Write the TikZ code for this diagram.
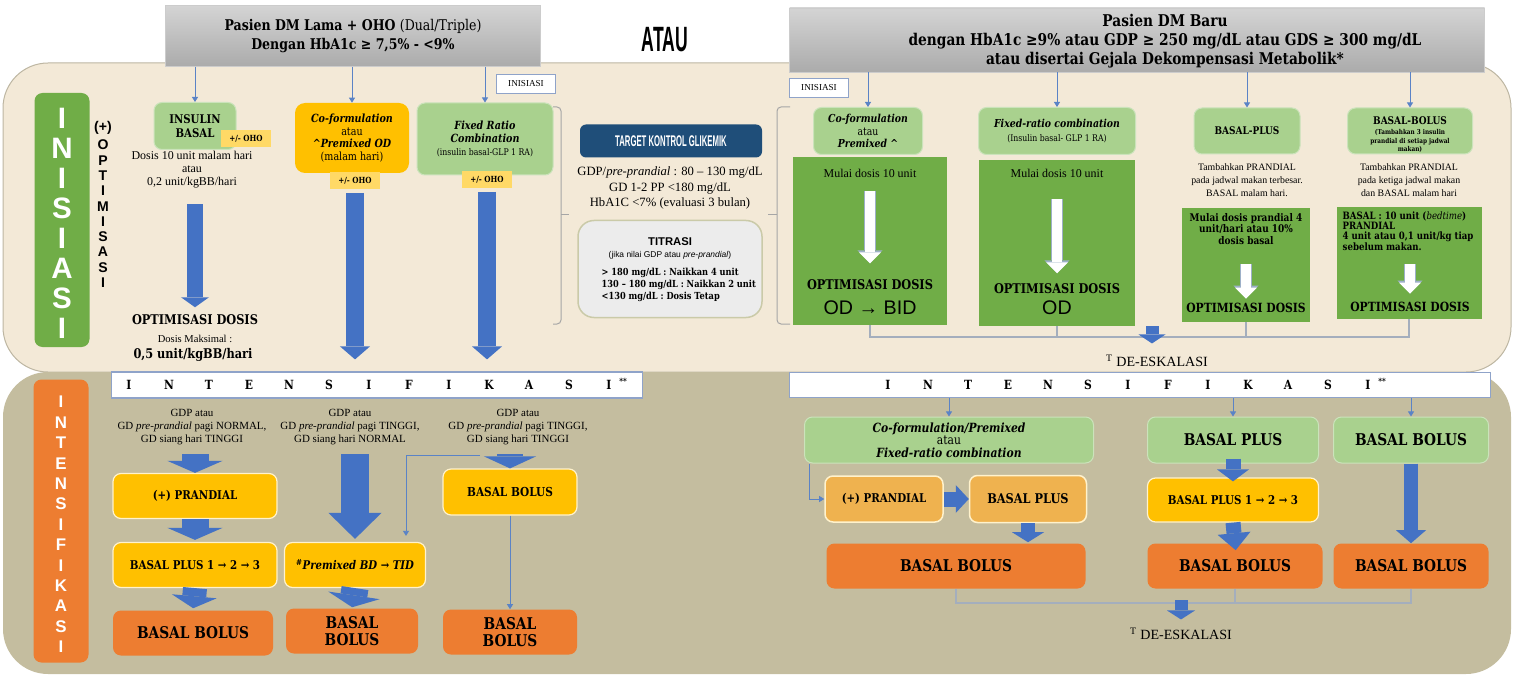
\documentclass[tikz,border=0pt]{standalone}
\usepackage{fontspec}
\setmainfont{Liberation Serif}
\setsansfont{Liberation Sans}
\newfontfamily\bk[FakeStretch=0.85]{DejaVu Serif}
\newfontfamily\cond[FakeStretch=0.5]{Liberation Sans}
\usetikzlibrary{arrows.meta}

\definecolor{cream}{HTML}{F3E9D7}
\definecolor{khaki}{HTML}{C4BD9F}
\definecolor{panelline}{HTML}{BDB6A2}
\definecolor{grayt}{HTML}{D4D4D4}
\definecolor{grayb}{HTML}{ABABAB}
\definecolor{navy}{HTML}{1F4E79}
\definecolor{dgreen}{HTML}{70AD47}
\definecolor{lgreen}{HTML}{A9D18E}
\definecolor{gold}{HTML}{FFC000}
\definecolor{paley}{HTML}{FFD966}
\definecolor{orng}{HTML}{ED7D31}
\definecolor{lorng}{HTML}{EFB24F}
\definecolor{arrblue}{HTML}{4472C4}
\definecolor{thinblue}{HTML}{5A83C6}
\definecolor{connline}{HTML}{A4AEBD}
\definecolor{lborder}{HTML}{FFF2CC}
\definecolor{titline}{HTML}{CACAA8}
\definecolor{banline}{HTML}{8FA3C9}
\definecolor{warrline}{HTML}{9DB0C8}

\newdimen\pxl \pxl=0.025cm
\newcommand{\fsz}[2]{\fontsize{#1}{#2}\selectfont}

\begin{document}
\begin{tikzpicture}[x=0.025cm, y=-0.025cm,
  every node/.style={align=center, inner sep=1pt},
  wh/.style 2 args={minimum width=#1\pxl, minimum height=#2\pxl},
  graybox/.style={top color=grayt, bottom color=grayb, draw=gray!40, line width=0.5\pxl},
  gbox/.style={fill=lgreen, draw=lgreen!60!white, line width=1\pxl, rounded corners=8\pxl},
  dgbox/.style={fill=dgreen},
  ybox/.style={fill=gold, draw=lborder, line width=1.2\pxl, rounded corners=8\pxl},
  pbox/.style={fill=lorng, draw=lborder, line width=1.5\pxl, rounded corners=8\pxl},
  obox/.style={fill=orng, rounded corners=8\pxl},
  ohobox/.style={fill=paley, wh={50}{17}, font=\bk\bfseries\fsz{6}{7}},
  inibox/.style={fill=white, draw=banline, line width=1.2\pxl, wh={59}{19}, font=\fsz{6.5}{7}},
  banner/.style={fill=white, draw=banline, line width=1.2\pxl},
  tarr/.style={draw=thinblue, line width=0.9\pxl, -{Triangle[width=4.3pt,length=3.6pt]}},
  conn/.style={draw=connline, line width=1.2\pxl},
  brk/.style={draw=gray!70, line width=1\pxl, rounded corners=4\pxl},
  barr/.style n args={3}{draw=arrblue, line width=#1\pxl,
    /utils/exec={\pgfmathsetmacro\arw{#2*0.71132}\pgfmathsetmacro\arl{#3*0.71132}},
    -{Triangle[width=\arw pt,length=\arl pt,line width=0pt 0 0]}},
  warr/.style={draw=white, line width=10\pxl, -{Triangle[width=15.6pt,length=7.8pt,line width=0pt 0 0]},
    preaction={draw=warrline, line width=12\pxl, -{Triangle[width=17.8pt,length=9.2pt,line width=0pt 0 0]}}}]
\useasboundingbox (0,0) rectangle (1514,676);

\filldraw[fill=cream, draw=panelline, line width=1\pxl, rounded corners=45\pxl] (3,63) rectangle (1511,372);
\fill[khaki, rounded corners=45\pxl] (3,372) rectangle (1511,674);

\node[graybox, wh={375}{61}, font=\bk\bfseries\fsz{10.5}{13}] (lama) at (353,36) {Pasien DM Lama + OHO {\mdseries (Dual/Triple)}\\Dengan HbA1c ≥ 7,5\% - <9\%};
\node[font=\cond\bfseries\fsz{25}{27}] (atau) at (665,40) {ATAU};
\node[graybox, wh={695}{64}] (baru) at (1137,40) {};
\node[font=\bk\bfseries\fsz{11.5}{13.5}] (barutxt) at (1165,41) {Pasien DM Baru\\dengan HbA1c ≥9\% atau GDP ≥ 250 mg/dL atau GDS ≥ 300 mg/dL\\atau disertai Gejala Dekompensasi Metabolik*};
\node[inibox] (ini1) at (526,84) {INISIASI};
\node[inibox] (ini2) at (819,88) {INISIASI};

\node[fill=dgreen, rounded corners=8\pxl, wh={55}{254}] (ibar) at (62,220) {};
\foreach \c [count=\i from 0] in {I,N,I,S,I,A,S,I}
  \node[font=\sffamily\bfseries\fsz{21}{21}, text=white] (ib\i) at (62,{118+30*\i}) {\c};
\node[font=\sffamily\bfseries\fsz{10}{10}] (plus) at (103,128) {(+)};
\foreach \c [count=\i from 0] in {O,P,T,I,M,I,S,A,S,I}
  \node[font=\sffamily\bfseries\fsz{10}{10}] (op\i) at (103,{145+15.3*\i}) {\c};

\node[gbox, wh={82}{47}, font=\bk\bfseries\fsz{8.5}{10}] (ins) at (195,126) {INSULIN\\BASAL};
\node[ohobox] (oho1) at (246,139) {+/- OHO};
\node[font=\fsz{8.5}{9.3}] (dos1) at (192,170) {Dosis 10 unit malam hari\\atau\\0,2 unit/kgBB/hari};
\node[font=\bk\bfseries\fsz{9.5}{11}] (opt1) at (195,320) {OPTIMISASI DOSIS};
\node[font=\fsz{7.5}{9}] (max1) at (195,339) {Dosis Maksimal :};
\node[font=\bk\bfseries\fsz{9.5}{11}] (max2) at (193,355) {0,5 unit/kgBB/hari};

\node[fill=gold, rounded corners=10\pxl, wh={114}{70}, font=\bk\fsz{8}{9}] (cof1) at (352,138) {\textbf{\textit{Co-formulation}}\\atau\\\textbf{\textit{\textasciicircum Premixed OD}}\\(malam hari)};
\node[ohobox] (oho2) at (355,181) {+/- OHO};
\node[gbox, wh={136}{72}, font=\bk\fsz{8}{9.4}] (frc) at (485,139) {\textbf{\textit{Fixed Ratio}}\\\textbf{\textit{Combination}}\\{\fsz{6.5}{8}(insulin basal-GLP 1 RA)}};
\node[ohobox] (oho3) at (487,180) {+/- OHO};

\node[fill=navy, rounded corners=6\pxl, wh={182}{33}, text=white, font=\cond\bfseries\fsz{11}{12}] (tkg) at (671,141) {TARGET KONTROL GLIKEMIK};
\node[font=\fsz{9}{10.7}] (tgt) at (670,188) {GDP/\textit{pre-prandial} : 80 – 130 mg/dL\\GD 1-2 PP <180 mg/dL\\HbA1C <7\% (evaluasi 3 bulan)};
\node[fill=gray!15, draw=titline, line width=1.5\pxl, rounded corners=16\pxl, wh={184}{97}] (tit) at (670,269) {};
\node[font=\sffamily\bfseries\fsz{8}{9}] (tit1) at (670,242) {TITRASI};
\node[font=\sffamily\fsz{6}{7}] (tit2) at (670,255) {(jika nilai GDP atau \textit{pre-prandial})};
\node[anchor=west, align=left, font=\bk\bfseries\fsz{6.9}{8.5}] (tit3) at (600,285) {> 180 mg/dL : Naikkan 4 unit\\130 – 180 mg/dL : Naikkan 2 unit\\<130 mg/dL : Dosis Tetap};

\node[gbox, wh={109}{47}, font=\bk\fsz{7.8}{9}] (cofR) at (868,131) {\textbf{\textit{Co-formulation}}\\atau\\\textbf{\textit{Premixed} \textasciicircum}};
\node[dgbox, wh={154}{167}] (dgA) at (870,241) {};
\node[font=\fsz{8.5}{10}] (mulA) at (870,173) {Mulai dosis 10 unit};
\node[font=\bk\bfseries\fsz{9.5}{11}] (optA) at (870,285) {OPTIMISASI DOSIS};
\node[font=\sffamily\fsz{14}{16}] (odA) at (870,308) {OD → BID};

\node[gbox, wh={157}{47}, font=\bk\fsz{7.8}{9.5}] (frR) at (1057,131) {\textbf{\textit{Fixed-ratio combination}}\\{\fsz{6.5}{8}(Insulin basal- GLP 1 RA)}};
\node[dgbox, wh={156}{165}] (dgB) at (1057,243) {};
\node[font=\fsz{8.5}{10}] (mulB) at (1057,173) {Mulai dosis 10 unit};
\node[font=\bk\bfseries\fsz{9.5}{11}] (optB) at (1057,289) {OPTIMISASI DOSIS};
\node[font=\sffamily\fsz{14}{16}] (odB) at (1057,308) {OD};

\node[gbox, wh={106}{46}, font=\bk\bfseries\fsz{7.5}{9}] (bpl) at (1247,131) {BASAL-PLUS};
\node[font=\fsz{7}{9.2}] (tamC) at (1247,180) {Tambahkan PRANDIAL\\pada jadwal makan terbesar.\\BASAL malam hari.};
\node[dgbox, wh={128}{114}] (dgC) at (1246,265) {};
\node[font=\bk\bfseries\fsz{7.5}{7.9}] (mulC) at (1246,229) {Mulai dosis prandial 4\\unit/hari atau 10\%\\dosis basal};
\node[font=\bk\bfseries\fsz{9}{11}] (optC) at (1246,308) {OPTIMISASI DOSIS};

\node[gbox, wh={125}{46}] (bbl) at (1410,131) {};
\node[font=\bk\bfseries\fsz{7.5}{8.5}] (bblt) at (1410,121) {BASAL-BOLUS};
\node[font=\bk\bfseries\fsz{4.8}{6}] (bbls) at (1410,141) {(Tambahkan 3 insulin\\prandial di setiap jadwal\\makan)};
\node[font=\fsz{7}{9.2}] (tamD) at (1409,180) {Tambahkan PRANDIAL\\pada ketiga jadwal makan\\dan BASAL malam hari};
\node[dgbox, wh={145}{112}] (dgD) at (1409,263) {};
\node[anchor=west, align=left, font=\bk\bfseries\fsz{7.2}{7.4}] (txtD) at (1341,231) {BASAL : 10 unit (\textit{\mdseries bedtime})\\PRANDIAL\\4 unit atau 0,1 unit/kg tiap\\sebelum makan.};
\node[font=\bk\bfseries\fsz{9}{11}] (optD) at (1410,307) {OPTIMISASI DOSIS};

\coordinate (deT) at (1152,337);
\coordinate (deA) at (1152,326);
\node[font=\fsz{10}{12}] (de1) at (1157,361) {\textsuperscript{T} DE-ESKALASI};

\node[fill=orng, rounded corners=8\pxl, wh={55}{283}] (ibar2) at (61,521) {};
\foreach \c [count=\i from 0] in {I,N,T,E,N,S,I,F,I,K,A,S,I}
  \node[font=\sffamily\bfseries\fsz{12}{12}, text=white] (it\i) at (61,{402+20.4*\i}) {\c};

\node[banner, wh={531}{26}] (ibanL) at (377,385) {};
\foreach \c [count=\i from 0] in {I,N,T,E,N,S,I,F,I,K,A,S,I}
  \node[font=\bk\bfseries\fsz{9}{10}] (bl\i) at ({129+40*\i},385) {\c};
\node[font=\bk\bfseries\fsz{6}{7}] (blst) at (623,381) {**};
\node[banner, wh={701}{25}] (ibanR) at (1140,385) {};
\foreach \c [count=\i from 0] in {I,N,T,E,N,S,I,F,I,K,A,S,I}
  \node[font=\bk\bfseries\fsz{9}{10}] (br\i) at ({888+40*\i},385) {\c};
\node[font=\bk\bfseries\fsz{6}{7}] (brst) at (1382,381) {**};

\node[font=\fsz{7.8}{9.2}] (gd1) at (192,427) {GDP atau\\GD \textit{pre-prandial} pagi NORMAL,\\GD siang hari TINGGI};
\node[font=\fsz{7.8}{9.2}] (gd2) at (350,427) {GDP atau\\GD \textit{pre-prandial} pagi TINGGI,\\GD siang hari NORMAL};
\node[font=\fsz{7.8}{9.2}] (gd3) at (518,427) {GDP atau\\GD \textit{pre-prandial} pagi TINGGI,\\GD siang hari TINGGI};
\node[ybox, wh={164}{45}, font=\bk\bfseries\fsz{8.6}{10}] (pr1) at (195,496) {(+) PRANDIAL};
\node[ybox, wh={164}{45}, font=\bk\bfseries\fsz{8.6}{10}] (bp1) at (195,565) {BASAL PLUS 1 → 2 → 3};
\node[obox, wh={160}{45}, font=\bk\bfseries\fsz{11.5}{12.5}] (bb1) at (193,633) {BASAL BOLUS};
\node[ybox, wh={141}{45}, font=\bk\bfseries\fsz{8.5}{10}] (pm2) at (355,565) {\textit{\textsuperscript{\#}Premixed BD → TID}};
\node[obox, wh={132}{45}, font=\bk\bfseries\fsz{11.5}{12.5}] (bb2) at (352,631) {BASAL\\BOLUS};
\node[ybox, wh={134}{46}, font=\bk\bfseries\fsz{8.8}{10}] (bb3y) at (510,492) {BASAL BOLUS};
\node[obox, wh={134}{45}, font=\bk\bfseries\fsz{11.5}{12.5}] (bb3) at (510,632) {BASAL\\BOLUS};
\coordinate (thS) at (480,455);

\node[gbox, wh={289}{46}, font=\bk\fsz{9}{9}] (cfR2) at (949,440) {\textbf{\textit{Co-formulation/Premixed}}\\atau\\\textbf{\textit{Fixed-ratio combination}}};
\node[pbox, wh={118}{46}, font=\bk\bfseries\fsz{8.6}{10}] (prR) at (884,499) {(+) PRANDIAL};
\node[pbox, wh={117}{47}, font=\bk\bfseries\fsz{9.5}{10}] (bpR) at (1028,499) {BASAL PLUS};
\node[obox, wh={259}{45}, font=\bk\bfseries\fsz{11.5}{12.5}] (bbR1) at (956,566) {BASAL BOLUS};
\node[gbox, wh={171}{46}, font=\bk\bfseries\fsz{11.5}{12.5}] (bpG) at (1233,440) {BASAL PLUS};
\node[ybox, wh={171}{44}, font=\bk\bfseries\fsz{8.6}{10}] (bp123) at (1233,500) {BASAL PLUS 1 → 2 → 3};
\node[obox, wh={175}{45}, font=\bk\bfseries\fsz{11.5}{12.5}] (bbR2) at (1235,566) {BASAL BOLUS};
\node[gbox, wh={155}{46}, font=\bk\bfseries\fsz{11.5}{12.5}] (bbG) at (1411,440) {BASAL BOLUS};
\node[obox, wh={155}{45}, font=\bk\bfseries\fsz{11.5}{12.5}] (bbR3) at (1411,566) {BASAL BOLUS};
\coordinate (deB) at (1181,603);
\coordinate (deBa) at (1181,600);
\node[font=\fsz{10}{12}] (de2) at (1181,634) {\textsuperscript{T} DE-ESKALASI};

\draw[brk] (553,107) -- (561,107) -- (561,324) -- (553,324);
\draw[brk] (561,215) -- (569,215);
\draw[brk] (790,107) -- (777,107) -- (777,324) -- (790,324);
\draw[brk] (777,215) -- (768,215);

\draw[tarr] (lama.south -| ins.north) -- (ins.north);
\draw[tarr] (lama.south -| cof1.north) -- (cof1.north);
\draw[tarr] (lama.south -| frc.north) -- (frc.north);
\draw[tarr] (baru.south -| cofR.north) -- (cofR.north);
\draw[tarr] (baru.south -| frR.north) -- (frR.north);
\draw[tarr] (baru.south -| bpl.north) -- (bpl.north);
\draw[tarr] (baru.south -| bbl.north) -- (bbl.north);

\draw[barr={16}{28}{10}, shorten <=14\pxl, shorten >=6\pxl] (opt1.north |- dos1.south) -- (opt1.north);
\draw[barr={18}{30}{13}, shorten <=3\pxl, shorten >=12\pxl] (oho2.south) -- (oho2.south |- ibanL.north);
\draw[barr={18}{30}{13}, shorten <=3\pxl, shorten >=12\pxl] (oho3.south) -- (oho3.south |- ibanL.north);

\draw[warr, shorten <=12\pxl, shorten >=15\pxl] (mulA.south) -- (optA.north);
\draw[warr, shorten <=20\pxl, shorten >=9\pxl] (mulB.south) -- (optB.north);
\draw[warr, shorten <=18\pxl, shorten >=3\pxl] (mulC.south) -- (optC.north);
\draw[warr, shorten <=12\pxl, shorten >=7\pxl] (optD.north |- txtD.south) -- (optD.north);

\draw[conn] (dgA.south) |- (deT) -| (dgD.south);
\draw[conn] (dgB.south) -- (dgB.south |- deT);
\draw[conn] (dgC.south) -- (dgC.south |- deT);
\draw[barr={13}{27}{9}, shorten >=10\pxl] (deA) -- (deA |- de1.north);

\draw[barr={27}{55}{12}, shorten <=8\pxl] (pr1.north |- gd1.south) -- (pr1.north);
\draw[barr={27}{55}{12}, shorten >=2\pxl] (pr1.south) -- (bp1.north);
\draw[barr={24}{45}{12}, shorten >=2\pxl] (bp1.south) -- (bb1.north);
\draw[barr={28}{53}{26}, shorten <=8\pxl, shorten >=3\pxl] (pm2.north |- gd2.south) -- (pm2.north);
\draw[barr={27}{52}{12}, shorten >=1\pxl] (pm2.south) -- (bb2.north);
\draw[barr={26}{52}{12}, shorten <=8\pxl] (bb3y.north |- gd3.south) -- (bb3y.north);
\draw[tarr] (bb3y.south) -- (bb3.north);
\draw[tarr, shorten >=6\pxl] (thS) -| ([xshift=51\pxl]pm2.north);

\draw[tarr] (ibanR.south -| cfR2.north) -- (cfR2.north);
\draw[tarr] (ibanR.south -| bpG.north) -- (bpG.north);
\draw[tarr] (ibanR.south -| bbG.north) -- (bbG.north);
\draw[tarr] ([xshift=-140\pxl]cfR2.south) |- (prR.west);
\draw[barr={15}{28}{13}] (prR.east) -- (bpR.west);
\draw[barr={14}{32}{10}, shorten >=1\pxl] (bpR.south) -- (bpR.south |- bbR1.north);
\draw[barr={15}{32}{12}, shorten <=-5\pxl, shorten >=-4\pxl] (bpG.south) -- (bp123.north);
\draw[barr={15}{33}{17}, shorten >=-7\pxl] (bp123.south) -- (bbR2.north);
\draw[barr={14}{30}{13}] (bbG.south) -- (bbR3.north);

\draw[conn] (bbR1.south) |- (deB) -| (bbR3.south);
\draw[conn] (bbR2.south) -- (bbR2.south |- deB);
\draw[barr={13}{28}{9}, shorten >=7\pxl] (deBa) -- (deBa |- de2.north);
\end{tikzpicture}
\end{document}
